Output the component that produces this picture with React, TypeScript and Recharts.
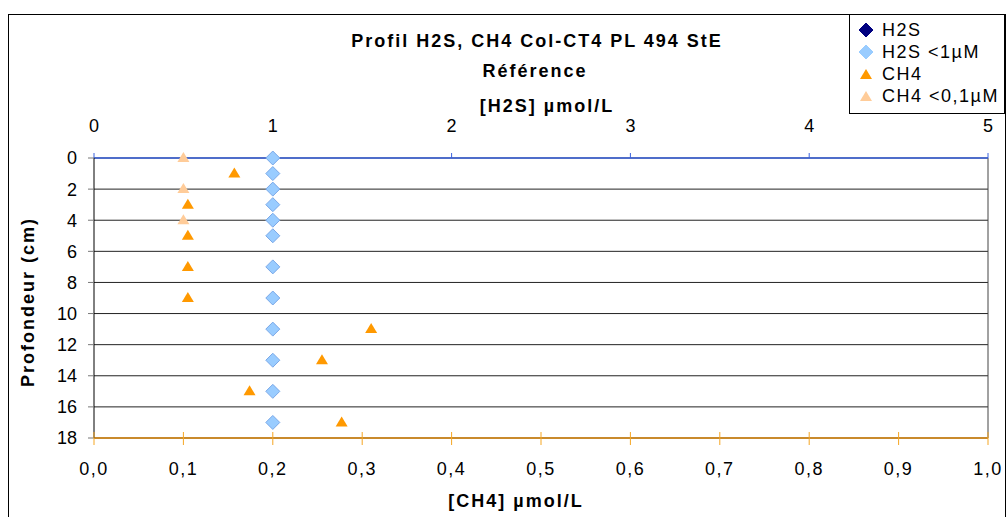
import {
    CartesianGrid, ReferenceLine, Scatter, ScatterChart, XAxis, YAxis,
} from 'recharts';

// depth (cm) of each sample
const h2sDepths = [0, 1, 2, 3, 4, 5, 7, 9, 11, 13, 15, 17];
const h2sBelowLimit = [1, 1, 1, 1, 1, 1, 1, 1, 1, 1, 1, 1];
const h2sMeasured: number[] = []; // no value above the detection limit
const h2sMeasuredDepths: number[] = [];

const ch4Depths = [1, 3, 5, 7, 9, 11, 13, 15, 17];
const ch4Values = [0.157, 0.105, 0.105, 0.105, 0.105, 0.31, 0.255, 0.174, 0.277];
const ch4LowDepths = [0, 2, 4];
const ch4LowValues = [0.1, 0.1, 0.1];

const depthTicks = [0, 2, 4, 6, 8, 10, 12, 14, 16, 18];
const h2sTicks = [0, 1, 2, 3, 4, 5];
const ch4Ticks = [0, 0.1, 0.2, 0.3, 0.4, 0.5, 0.6, 0.7, 0.8, 0.9, 1.0];

const toPoints = (xs: number[], ys: number[]) => xs.map((x, i) => ({ x, y: ys[i] }));

const C = {
    h2s: '#000080',
    h2sLow: '#99ccff',
    h2sLowEdge: '#7aa8e8',
    ch4: '#ff9900',
    ch4Low: '#ffcc99',
    topAxis: '#3a62de',
    bottomAxis: '#c98a2c',
    bottomTick: '#f5a623',
    grid: '#222',
};

const FONT = '"Liberation Sans", Arial, sans-serif';

function Diamond({ cx, cy, fill, stroke }: any) {
    const r = 7;
    return (
        <polygon
            points={`${cx},${cy - r} ${cx + r},${cy} ${cx},${cy + r} ${cx - r},${cy}`}
            fill={fill} stroke={stroke ?? fill} strokeWidth={1}
        />
    );
}

function Triangle({ cx, cy, fill }: any) {
    return <polygon points={`${cx},${cy - 6} ${cx + 6},${cy + 4} ${cx - 6},${cy + 4}`} fill={fill} />;
}

function Ch4Tick({ x, y, payload }: any) {
    return (
        <g>
            <line x1={x} x2={x} y1={y - 6} y2={y + 7} stroke={C.bottomTick} />
            <text x={x} y={y + 37} textAnchor="middle" fontSize={18} fill="#000" style={{ letterSpacing: 1.5 }}>
                {Number(payload.value).toFixed(1).replace('.', ',')}
            </text>
        </g>
    );
}

function LegendIcon({ kind, color }: { kind: 'diamond' | 'triangle'; color: string }) {
    return (
        <svg width={16} height={16} style={{ display: 'block' }}>
            {kind === 'diamond'
                ? <Diamond cx={8} cy={8} fill={color} />
                : <Triangle cx={8} cy={9} fill={color} />}
        </svg>
    );
}

const legendItems = [
    { label: 'H2S', kind: 'diamond' as const, color: C.h2s },
    { label: 'H2S <1µM', kind: 'diamond' as const, color: C.h2sLow },
    { label: 'CH4', kind: 'triangle' as const, color: C.ch4 },
    { label: 'CH4 <0,1µM', kind: 'triangle' as const, color: C.ch4Low },
];

const label = (top: number, center: number, text: string, size = 18) => (
    <div style={{
        position: 'absolute', left: center - 250, top, width: 500, textAlign: 'center',
        fontWeight: 'bold', fontSize: size, lineHeight: '20px', letterSpacing: 2, whiteSpace: 'nowrap',
    }}>
        {text}
    </div>
);

export default function App() {
    return (
        <div style={{
            position: 'absolute', left: 0, top: 0, width: 1008, height: 517,
            overflow: 'hidden', background: '#fff', fontFamily: FONT, color: '#000',
        }}>
            <div style={{ position: 'absolute', left: 8, top: 14, width: 996, height: 520, border: '1px solid #000' }} />
            <div style={{ position: 'absolute', left: 0, top: 0 }}>
                <ScatterChart width={1008} height={517} margin={{ top: 118, right: 20, bottom: 39, left: 34 }}>
                    <CartesianGrid vertical={false} stroke={C.grid} />
                    <XAxis
                        xAxisId="h2s" orientation="top" type="number" dataKey="x"
                        domain={[0, 5]} ticks={h2sTicks} height={40}
                        tickSize={5} tickMargin={21}
                        tick={{ fontSize: 18, fill: '#000', fontFamily: FONT }}
                        tickLine={{ stroke: C.topAxis }} axisLine={{ stroke: C.topAxis, strokeWidth: 1.5 }}
                    />
                    <XAxis
                        xAxisId="ch4" orientation="bottom" type="number" dataKey="x"
                        domain={[0, 1]} ticks={ch4Ticks} height={40}
                        tickSize={0} tickMargin={0} tickLine={false}
                        tick={<Ch4Tick />}
                        axisLine={{ stroke: C.bottomAxis, strokeWidth: 2 }}
                    />
                    <YAxis
                        type="number" dataKey="y" reversed domain={[0, 18]} ticks={depthTicks}
                        width={60} tickSize={6} tickMargin={11}
                        tick={{ fontSize: 18, fill: '#000', fontFamily: FONT }}
                        tickLine={{ stroke: '#777' }} axisLine={{ stroke: '#000' }}
                    />
                    <ReferenceLine x={1} xAxisId="ch4" stroke="#444" />
                    <Scatter
                        name="H2S <1µM" xAxisId="h2s" data={toPoints(h2sBelowLimit, h2sDepths)}
                        isAnimationActive={false}
                        shape={(p: any) => <Diamond cx={p.cx} cy={p.cy} fill={C.h2sLow} stroke={C.h2sLowEdge} />}
                    />
                    <Scatter
                        name="H2S" xAxisId="h2s" data={toPoints(h2sMeasured, h2sMeasuredDepths)}
                        isAnimationActive={false}
                        shape={(p: any) => <Diamond cx={p.cx} cy={p.cy} fill={C.h2s} />}
                    />
                    <Scatter
                        name="CH4 <0,1µM" xAxisId="ch4" data={toPoints(ch4LowValues, ch4LowDepths)}
                        isAnimationActive={false}
                        shape={(p: any) => <Triangle cx={p.cx} cy={p.cy} fill={C.ch4Low} />}
                    />
                    <Scatter
                        name="CH4" xAxisId="ch4" data={toPoints(ch4Values, ch4Depths)}
                        isAnimationActive={false}
                        shape={(p: any) => <Triangle cx={p.cx} cy={p.cy} fill={C.ch4} />}
                    />
                </ScatterChart>
            </div>

            {label(31, 537, 'Profil H2S, CH4 Col-CT4 PL 494 StE')}
            {label(61, 535, 'Référence')}
            {label(96, 547, '[H2S] µmol/L')}
            {label(491, 516, '[CH4] µmol/L')}
            <div style={{
                position: 'absolute', left: 28 - 100, top: 302 - 10, width: 200, textAlign: 'center',
                transform: 'rotate(-90deg)', fontWeight: 'bold', fontSize: 18, lineHeight: '20px',
                letterSpacing: 2, whiteSpace: 'nowrap',
            }}>
                Profondeur (cm)
            </div>

            <div style={{
                position: 'absolute', left: 849, top: 14, width: 156, height: 100,
                border: '1px solid #000', background: '#fff', boxSizing: 'border-box', paddingTop: 4,
            }}>
                {legendItems.map((it) => (
                    <div key={it.label} style={{ display: 'flex', alignItems: 'center', height: 22 }}>
                        <div style={{ width: 32, display: 'flex', justifyContent: 'center' }}>
                            <LegendIcon kind={it.kind} color={it.color} />
                        </div>
                        <span style={{ fontSize: 18, letterSpacing: 1.5, whiteSpace: 'nowrap' }}>{it.label}</span>
                    </div>
                ))}
            </div>
        </div>
    );
}
